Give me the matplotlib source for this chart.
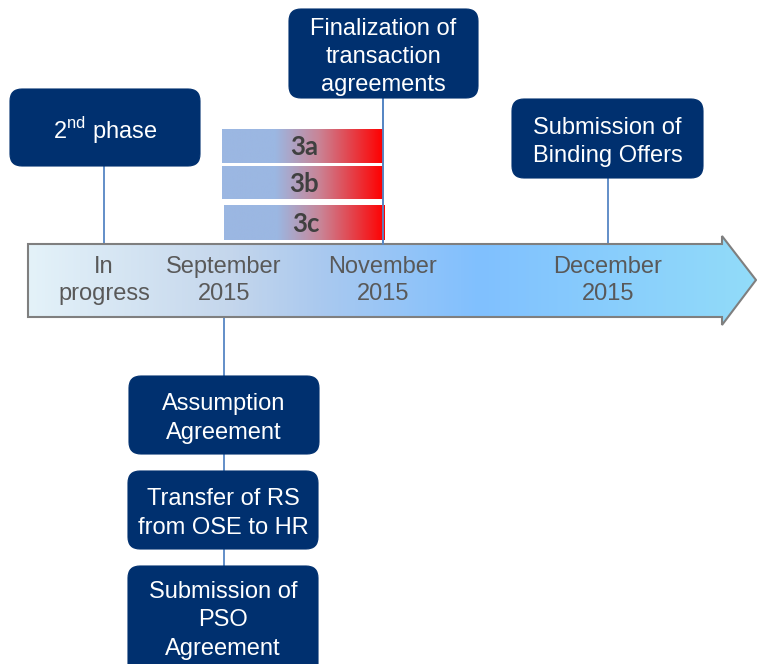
''' Linha do tempo das etapas '''

import numpy as np
import matplotlib.pyplot as plt
from matplotlib.patches import FancyBboxPatch, Polygon
from matplotlib.colors import LinearSegmentedColormap

plt.rcParams['font.family'] = ['Liberation Sans', 'DejaVu Sans']
plt.rcParams['mathtext.fontset'] = 'custom'
plt.rcParams['mathtext.rm'] = 'Liberation Sans'

# Dados do grafico
periodos = ['In\nprogress', 'September\n2015', 'November\n2015', 'December\n2015']
caixas_cima = [r'2$^{\mathrm{nd}}$ phase', 'Finalization of\ntransaction\nagreements',
               'Submission of\nBinding Offers']
caixas_baixo = ['Assumption\nAgreement', 'Transfer of RS\nfrom OSE to HR',
                'Submission of\nPSO\nAgreement']
etapas = ['3a', '3b', '3c']

# Layout (pixels)
W, H = 757, 664
periodo_x = [104, 224, 383, 608]
cima_box = [(10, 89, 190, 77), (289, 9, 189, 89), (512, 99, 191, 79)]
cima_linha = [(104, 166), (383, 98), (608, 178)]
baixo_box = [(129, 376, 190, 78), (128, 471, 190, 78), (128, 566, 190, 110)]
etapa_box = [(222, 129, 161, 34), (222, 166, 161, 33), (224, 205, 161, 35)]

AZUL = '#00306f'
LINHA = '#5686c4'

fig = plt.figure(figsize=(W / 100, H / 100), dpi=100)
ax = fig.add_axes([0, 0, 1, 1])
ax.set_xlim(0, W)
ax.set_ylim(H, 0)
ax.axis('off')

# Define a seta com gradiente
seta = Polygon([(28, 244), (722, 244), (722, 236), (756, 280), (722, 325),
                (722, 317), (28, 317)], closed=True, fc='none', ec='#7f7f7f',
               lw=1.5, zorder=3)
ax.add_patch(seta)
cmap_seta = LinearSegmentedColormap.from_list('seta', [
    (0.0, '#e4f2f9'), (0.28, '#c4d6ec'), (0.4, '#aac9ef'),
    (0.62, '#80c0ff'), (1.0, '#92dcf9')])
grad = np.linspace(0, 1, 512).reshape(1, -1)
img = ax.imshow(grad, cmap=cmap_seta, extent=(28, 757, 325, 236),
                aspect='auto', zorder=2)
img.set_clip_path(seta)

# Linhas verticais
for x, y0 in cima_linha:
    ax.plot([x, x], [y0, 244], color=LINHA, lw=1.3, zorder=1)
ax.plot([224, 224], [317, 580], color=LINHA, lw=1.3, zorder=1)

# Barras 3a/3b/3c
cmap_etapa = LinearSegmentedColormap.from_list('etapa', [
    (0.0, '#9bb7e2'), (0.33, '#9bb7e2'), (0.6, '#c98597'), (1.0, '#ff0000')])
for (x, y, w, h), nome in zip(etapa_box, etapas):
    ax.imshow(grad, cmap=cmap_etapa, extent=(x, x + w, y + h, y),
              aspect='auto', zorder=2)
    ax.text(x + w * 0.51, y + h / 2 + 1, nome, ha='center', va='center',
            fontsize=18.5, fontweight='bold', color='#404040',
            family=['Lato', 'DejaVu Sans'], zorder=4)
ax.plot([383, 383], [98, 244], color=LINHA, lw=1.3, zorder=3)

# Caixas
for (x, y, w, h), txt in zip(cima_box + baixo_box, caixas_cima + caixas_baixo):
    caixa = FancyBboxPatch((x, y), w, h, boxstyle='round,pad=0,rounding_size=12',
                           fc=AZUL, ec=AZUL, lw=0.8, zorder=5)
    ax.add_patch(caixa)
    cy = y + h / 2 if y + h <= H else 617
    ax.text(x + w / 2, cy + 3.5, txt, ha='center', va='center', color='white',
            fontsize=17, linespacing=1.38, zorder=6)

# Rotulos dos periodos
for x, txt in zip(periodo_x, periodos):
    ax.text(x, 280.5, txt, ha='center', va='center', color='#595959',
            fontsize=17, linespacing=1.33, zorder=4)

ax.set_xlim(0, W)
ax.set_ylim(H, 0)
fig.savefig('out.png', dpi=100)
